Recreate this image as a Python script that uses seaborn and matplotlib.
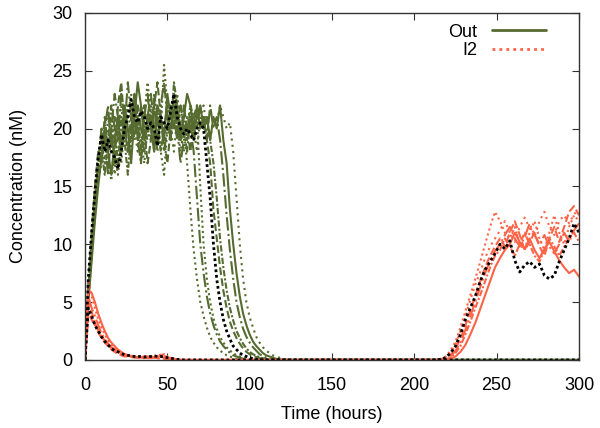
import numpy as np
import pandas as pd
import seaborn as sns
import matplotlib.pyplot as plt

# Out runs, sampled every 2 hours from t=0 until they reach zero
out_runs = [
    [0, 5, 9, 13, 16, 18.5, 17, 19, 21, 18, 16, 19, 22, 20, 18, 23, 21, 19, 17, 20, 22, 19, 21, 18, 16, 20, 19, 22, 20, 18,
     20, 17, 13, 9.5, 7, 5, 3.8, 2.8, 2, 1.5, 1.1, 0.8, 0.6, 0.4, 0.3, 0.2, 0.1, 0],
    [0, 6, 10, 14, 17, 20, 19, 16, 20, 23, 21, 18, 20, 24, 21, 19, 22, 20, 18, 21, 23, 20, 18, 22, 24, 21, 19, 22, 20, 17,
     19, 21, 20, 18, 14, 10, 7.5, 5.5, 4, 3, 2.2, 1.6, 1.2, 0.9, 0.6, 0.4, 0.3, 0.2, 0.1, 0.05, 0],
    [0, 5.5, 9, 12.5, 15.5, 17, 20, 17, 15.5, 19, 21, 17, 20, 22, 19, 23, 20, 17, 21, 24, 21, 19, 22, 20, 25.5, 22, 19, 21,
     23, 20, 18, 20, 22, 19, 21, 15, 10, 7, 5, 3.6, 2.7, 2, 1.5, 1.1, 0.8, 0.6, 0.4, 0.3, 0.2, 0.1, 0],
    [0, 6, 10, 14, 16.5, 18, 21, 18, 20, 17, 22, 24, 20, 18, 21, 23, 19, 22, 20, 17, 19, 22, 24, 21, 19, 17, 20, 23, 21, 19,
     22, 20, 18, 21, 22, 20, 21, 19, 17, 13, 10.5, 8, 6, 4.5, 3.3, 2.5, 1.9, 1.4, 1, 0.7, 0.5, 0.35, 0.25, 0.15, 0.1, 0],
    [0, 6.5, 11, 15, 18, 18, 16, 19, 22, 20, 17, 21, 19, 16, 20, 23, 21, 18, 22, 20, 19, 23, 21, 18, 20, 22, 19, 24, 22, 20,
     21, 19, 22, 21, 20, 22, 20, 21, 19, 17, 14, 10.5, 8, 6, 4.5, 3.4, 2.5, 1.9, 1.4, 1, 0.7, 0.5, 0.35, 0.25, 0.15, 0.1, 0],
    [0, 5, 8.5, 12, 15, 17.5, 20, 18, 16, 19, 21, 18, 22, 20, 17, 21, 24, 22, 19, 21, 20, 18, 22, 21, 19, 23, 21, 20, 22, 19,
     21, 23, 22, 20, 21, 22, 20, 21, 19, 21, 20, 22, 19, 17, 13, 10, 7.5, 5.5, 4, 3, 2.2, 1.6, 1.2, 0.9, 0.6, 0.4, 0.3, 0.2,
     0.1, 0.05, 0],
    [0, 6, 10, 13.5, 16.5, 19, 17, 21, 19, 16, 20, 22, 19, 21, 23, 20, 18, 22, 20, 19, 21, 18, 20, 22, 19, 21, 20, 18, 21,
     22, 20, 19, 21, 20, 18, 21, 22, 20, 19, 21, 20.5, 22, 21, 20, 20.5, 18, 14, 10, 7, 5, 3.7, 2.8, 2, 1.5, 1.1, 0.8, 0.6,
     0.4, 0.3, 0.2, 0.1, 0.05, 0],
    [0, 5.5, 9.5, 13, 17, 17, 20, 22, 18, 21, 19, 23, 21, 18, 20, 22, 19, 17, 21, 23, 20, 22, 19, 21, 18, 20, 22, 21, 19, 22,
     20, 18, 21, 19, 22, 20, 21, 19, 22, 20, 21, 19, 16, 12.5, 9.5, 7, 5, 3.7, 2.7, 2, 1.5, 1.1, 0.8, 0.5, 0.35, 0.2, 0.1, 0],
]
out_mean = [0, 7, 11, 14.5, 17.5, 19.5, 18, 19, 18, 17.5, 16.5, 18, 20, 21, 22.5, 21, 20.5, 21.5, 21, 20, 20.5, 20, 18.5,
            21, 20.5, 20, 21.5, 23, 21, 20, 19.5, 20, 19.5, 19, 20, 20.5, 20, 17, 14, 10, 7, 5, 3.5, 2.5, 1.8, 1.2, 0.9,
            0.6, 0.4, 0.3, 0.2, 0.1, 0.05, 0]

# I2 runs: early phase every 2 h (0-60 h), late phase every 3 h (210-300 h)
i2_early = [
    [0, 7, 5.5, 4.5, 3.5, 2.8, 2.2, 1.7, 1.3, 1, 0.8, 0.6, 0.5, 0.4, 0.35, 0.3, 0.3, 0.25, 0.2, 0.25, 0.3, 0.35, 0.4, 0.45,
     0.35, 0.25, 0.15, 0.1, 0.05, 0.02, 0],
    [0, 5, 4.2, 3.2, 2.4, 1.9, 1.5, 1.2, 0.9, 0.7, 0.5, 0.4, 0.3, 0.3, 0.25, 0.2, 0.2, 0.25, 0.3, 0.3, 0.25, 0.2, 0.15, 0.1,
     0.1, 0.05, 0.05, 0.02, 0, 0, 0],
    [0, 4, 3.5, 3, 2.6, 2, 1.7, 1.4, 1.1, 0.9, 0.7, 0.6, 0.5, 0.4, 0.3, 0.25, 0.2, 0.2, 0.15, 0.2, 0.25, 0.3, 0.35, 0.4, 0.5,
     0.3, 0.2, 0.1, 0.05, 0, 0],
    [0, 6, 5.8, 5, 4, 3.2, 2.5, 1.9, 1.5, 1.2, 0.9, 0.7, 0.5, 0.4, 0.35, 0.3, 0.25, 0.2, 0.2, 0.15, 0.2, 0.25, 0.3, 0.3, 0.2,
     0.15, 0.1, 0.05, 0, 0, 0],
    [0, 3.5, 3.8, 3.2, 2.7, 2.1, 1.6, 1.3, 1, 0.8, 0.6, 0.5, 0.4, 0.35, 0.3, 0.3, 0.3, 0.25, 0.3, 0.35, 0.3, 0.25, 0.2, 0.2,
     0.15, 0.1, 0.1, 0.05, 0.02, 0, 0],
    [0, 5.5, 4.5, 3.8, 3, 2.3, 1.8, 1.4, 1.1, 0.9, 0.7, 0.5, 0.45, 0.4, 0.3, 0.25, 0.2, 0.2, 0.25, 0.2, 0.15, 0.2, 0.3, 0.35,
     0.3, 0.2, 0.1, 0.05, 0.02, 0, 0],
]
i2_late = [
    [0, 0, 0.1, 0.3, 0.8, 1.6, 2.8, 4.2, 5.6, 7, 8.5, 10, 11.5, 12.8, 12, 11, 10.5, 11.5, 10, 9.5, 11, 12, 10.5, 9.5, 11,
     12.5, 11, 10, 11.5, 12.5, 12],
    [0, 0, 0, 0.1, 0.4, 1, 1.8, 3, 4.3, 5.5, 6.8, 8, 9, 9.8, 10.5, 9.8, 11, 12, 10.8, 9.5, 10.2, 11, 9.8, 9, 10.5, 11.5,
     10.2, 11.5, 12.8, 13.3, 12.5],
    [0, 0, 0, 0.05, 0.2, 0.6, 1.2, 2.2, 3.3, 4.5, 5.6, 6.8, 8, 9, 9.5, 10.5, 9.8, 9, 10, 11, 10, 9, 8.5, 9.5, 10.5, 9.8, 9,
     9.8, 10.5, 11, 10.2],
    [0, 0, 0, 0, 0.1, 0.3, 0.7, 1.3, 2.2, 3.2, 4.4, 5.6, 6.8, 8, 8.8, 9.5, 10, 11, 10.2, 9.6, 10.5, 9.5, 8.8, 9.6, 10.2, 9.4,
     8.6, 8, 7.5, 7.8, 7.2],
    [0, 0, 0.05, 0.2, 0.6, 1.3, 2.5, 3.8, 5.2, 6.5, 7.6, 8.8, 9.8, 10.5, 11.2, 12, 11, 10.2, 11.5, 12.3, 11.4, 10.6, 12,
     12.8, 11.5, 10.8, 12, 12.5, 11.8, 12.6, 13],
    [0, 0, 0, 0.05, 0.3, 0.8, 1.5, 2.6, 3.8, 5, 6.3, 7.5, 8.6, 9.4, 10, 10.8, 11.5, 10.5, 9.8, 10.6, 11.8, 10.8, 10, 10.8,
     9.8, 9.2, 10, 11, 10.2, 11.2, 11.8],
]
i2_mean_early = [0, 4.5, 3.8, 3, 2.5, 2, 1.6, 1.3, 1, 0.8, 0.7, 0.55, 0.45, 0.4, 0.35, 0.3, 0.3, 0.3, 0.25, 0.3, 0.3,
                 0.35, 0.3, 0.3, 0.25, 0.2, 0.15, 0.1, 0.05, 0.05, 0]
i2_mean_late = [0, 0, 0.05, 0.2, 0.6, 1.2, 2.2, 3.5, 4.5, 5.5, 6.8, 7.8, 8.5, 9.2, 10, 9.6, 10.3, 8.6, 7.6, 8.2, 8.5, 8,
                8.3, 7.3, 7, 7.3, 8.5, 9.5, 10.5, 11.8, 11]

GREEN = "#556b2f"
SALMON = "#ff6347"
styles = [":", "-.", (0, (1, 1.5)), "--", (0, (3, 1, 1, 1)), "-", (0, (1, 2)), "-."]

t_end = 300
t_early = np.arange(0, 61, 2)
t_late = np.arange(210, 301, 3)

sns.set_style("ticks")
plt.rcParams["font.family"] = ["Liberation Sans", "DejaVu Sans"]
plt.rcParams["text.color"] = "black"
plt.rcParams["axes.labelcolor"] = "black"

fig = plt.figure(figsize=(6, 4.28), dpi=100)
ax = fig.add_axes([0.1417, 0.159, 0.8233, 0.811])


def draw(t, y, color, ls, lw=1.5, label=None):
    sns.lineplot(x=t, y=y, ax=ax, color=color, linestyle=ls, linewidth=lw,
                 estimator=None, sort=False, label=label, legend=False)


for i, run in enumerate(out_runs):
    t = list(np.arange(0, 2 * len(run), 2)) + [t_end]
    draw(t, run + [0], GREEN, styles[i % len(styles)])

for i, (e, l) in enumerate(zip(i2_early, i2_late)):
    t = list(t_early) + list(t_late)
    draw(t, e + l, SALMON, styles[(i + 2) % len(styles)])

t = list(np.arange(0, 2 * len(out_mean), 2)) + [t_end]
draw(t, out_mean + [0], "black", (0, (1, 1)), lw=2.0)
draw(list(t_early) + list(t_late), i2_mean_early + i2_mean_late, "black", (0, (1, 1)), lw=2.0)

# legend handles
ax.plot([], [], color=GREEN, linestyle="-", linewidth=2, label="Out")
ax.plot([], [], color=SALMON, linestyle=(0, (1, 1.5)), linewidth=2, label="I2")
ax.legend(loc="upper right", bbox_to_anchor=(0.955, 1.0), frameon=False, markerfirst=False,
          fontsize=13, handlelength=3.0, borderaxespad=0.2, labelspacing=0.1, handletextpad=0.8)

ax.set_xlim(0, 300)
ax.set_ylim(0, 30)
ax.set_xticks([0, 50, 100, 150, 200, 250, 300])
ax.set_yticks([0, 5, 10, 15, 20, 25, 30])
ax.tick_params(direction="in", top=True, right=True, labelsize=13, length=5,
               color="#333333", labelcolor="black")
ax.tick_params(axis="x", pad=12)
ax.tick_params(axis="y", pad=9)
for s in ax.spines.values():
    s.set_color("#333333")
    s.set_linewidth(1.0)
ax.set_xlabel("Time (hours)", fontsize=13, labelpad=9)
ax.set_ylabel("Concentration (nM)", fontsize=13, labelpad=18)

plt.savefig("out.png", dpi=100)
